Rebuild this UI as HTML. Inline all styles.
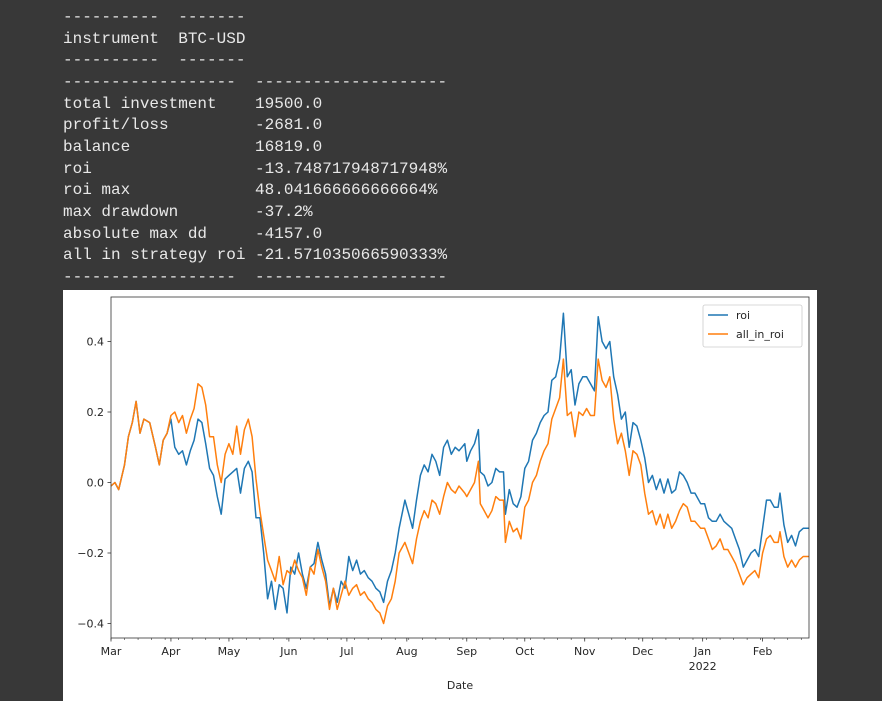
<!DOCTYPE html>
<html><head><meta charset="utf-8"><style>
body{margin:0;background:#383838;width:882px;height:701px;overflow:hidden;position:relative}
pre{position:absolute;left:63px;top:7px;margin:0;font-family:"Liberation Mono",monospace;font-size:16px;line-height:21.65px;color:#e8e8e8}
#chart{position:absolute;left:63px;top:290px}
svg text{font-family:"DejaVu Sans","Liberation Sans",sans-serif;font-size:11px;fill:#262626}
</style></head><body>
<pre>----------  -------
instrument  BTC-USD
----------  -------
------------------  --------------------
total investment    19500.0
profit/loss         -2681.0
balance             16819.0
roi                 -13.748717948717948%
roi max             48.041666666666664%
max drawdown        -37.2%
absolute max dd     -4157.0
all in strategy roi -21.571035066590333%
------------------  --------------------</pre>
<svg id="chart" width="754" height="411"></svg>
<script>
const dates=["2021-03-01","2021-03-03","2021-03-05","2021-03-08","2021-03-10","2021-03-12","2021-03-14","2021-03-16","2021-03-18","2021-03-21","2021-03-24","2021-03-26","2021-03-28","2021-03-30",
"2021-04-01","2021-04-03","2021-04-05","2021-04-07","2021-04-09","2021-04-11","2021-04-13","2021-04-15","2021-04-17","2021-04-19","2021-04-21","2021-04-23","2021-04-25","2021-04-27","2021-04-29",
"2021-05-01","2021-05-03","2021-05-05","2021-05-07","2021-05-09","2021-05-11","2021-05-13","2021-05-15","2021-05-17","2021-05-19","2021-05-21","2021-05-23","2021-05-25","2021-05-27","2021-05-29","2021-05-31",
"2021-06-02","2021-06-04","2021-06-06","2021-06-08","2021-06-10","2021-06-12","2021-06-14","2021-06-16","2021-06-18","2021-06-20","2021-06-22","2021-06-24","2021-06-26","2021-06-28","2021-06-30",
"2021-07-02","2021-07-04","2021-07-06","2021-07-08","2021-07-10","2021-07-12","2021-07-14","2021-07-16","2021-07-18","2021-07-20","2021-07-22","2021-07-24","2021-07-26","2021-07-28","2021-07-31",
"2021-08-02","2021-08-04","2021-08-06","2021-08-08","2021-08-10","2021-08-12","2021-08-14","2021-08-16","2021-08-18","2021-08-20","2021-08-22","2021-08-24","2021-08-26","2021-08-28","2021-08-31",
"2021-09-01","2021-09-03","2021-09-05","2021-09-07","2021-09-08","2021-09-10","2021-09-12","2021-09-14","2021-09-16","2021-09-18","2021-09-20","2021-09-21","2021-09-23","2021-09-25","2021-09-27","2021-09-29",
"2021-10-01","2021-10-03","2021-10-05","2021-10-07","2021-10-09","2021-10-11","2021-10-13","2021-10-15","2021-10-17","2021-10-19","2021-10-21","2021-10-23","2021-10-25","2021-10-27","2021-10-29","2021-10-31",
"2021-11-02","2021-11-04","2021-11-06","2021-11-08","2021-11-10","2021-11-12","2021-11-14","2021-11-16","2021-11-18","2021-11-20","2021-11-22","2021-11-24","2021-11-26","2021-11-28","2021-11-30",
"2021-12-02","2021-12-04","2021-12-06","2021-12-08","2021-12-10","2021-12-12","2021-12-14","2021-12-16","2021-12-18","2021-12-20","2021-12-22","2021-12-24","2021-12-26","2021-12-28","2021-12-31",
"2022-01-02","2022-01-04","2022-01-06","2022-01-08","2022-01-10","2022-01-12","2022-01-14","2022-01-16","2022-01-18","2022-01-20","2022-01-22","2022-01-24","2022-01-26","2022-01-28","2022-01-30",
"2022-02-01","2022-02-03","2022-02-05","2022-02-07","2022-02-09","2022-02-10","2022-02-12","2022-02-14","2022-02-16","2022-02-18","2022-02-20","2022-02-22","2022-02-25"];
const roi=[-0.01,0.0,-0.02,0.05,0.13,0.17,0.23,0.14,0.18,0.17,0.10,0.05,0.12,0.14,
0.18,0.10,0.08,0.09,0.05,0.09,0.12,0.18,0.17,0.11,0.04,0.02,-0.04,-0.09,0.01,
0.02,0.03,0.04,-0.03,0.04,0.06,0.03,-0.10,-0.10,-0.20,-0.33,-0.28,-0.36,-0.29,-0.30,-0.37,
-0.24,-0.26,-0.20,-0.26,-0.30,-0.24,-0.23,-0.17,-0.22,-0.26,-0.35,-0.30,-0.34,-0.28,-0.30,
-0.21,-0.25,-0.22,-0.26,-0.25,-0.27,-0.28,-0.30,-0.31,-0.34,-0.28,-0.25,-0.20,-0.13,-0.05,
-0.09,-0.13,-0.05,0.02,0.05,0.03,0.08,0.06,0.02,0.10,0.12,0.08,0.10,0.09,0.11,
0.06,0.09,0.11,0.15,0.03,0.02,-0.01,0.00,0.04,0.03,0.03,-0.09,-0.02,-0.06,-0.07,-0.04,
0.04,0.06,0.12,0.14,0.17,0.19,0.20,0.29,0.30,0.35,0.48,0.30,0.32,0.22,0.28,0.30,
0.30,0.28,0.26,0.47,0.40,0.38,0.40,0.30,0.25,0.18,0.20,0.10,0.17,0.16,0.12,
0.07,0.00,0.02,-0.02,0.01,-0.03,0.01,-0.03,-0.02,0.03,0.02,0.00,-0.03,-0.03,-0.06,
-0.06,-0.10,-0.11,-0.11,-0.09,-0.11,-0.12,-0.13,-0.16,-0.19,-0.24,-0.22,-0.20,-0.19,-0.21,
-0.13,-0.05,-0.05,-0.07,-0.07,-0.03,-0.12,-0.17,-0.15,-0.18,-0.14,-0.13,-0.13];
const allInRoi=[-0.01,0.0,-0.02,0.05,0.13,0.17,0.23,0.14,0.18,0.17,0.10,0.05,0.12,0.14,
0.19,0.20,0.17,0.19,0.14,0.18,0.21,0.28,0.27,0.22,0.13,0.13,0.05,0.00,0.08,
0.11,0.08,0.16,0.08,0.15,0.18,0.13,0.01,-0.08,-0.15,-0.22,-0.25,-0.28,-0.21,-0.29,-0.25,
-0.26,-0.22,-0.25,-0.27,-0.32,-0.24,-0.26,-0.19,-0.24,-0.28,-0.36,-0.30,-0.36,-0.32,-0.28,
-0.32,-0.30,-0.29,-0.32,-0.31,-0.33,-0.34,-0.36,-0.37,-0.40,-0.35,-0.33,-0.28,-0.20,-0.17,
-0.20,-0.23,-0.16,-0.11,-0.08,-0.10,-0.05,-0.06,-0.09,-0.04,0.00,-0.02,-0.03,-0.01,-0.03,
-0.04,-0.02,0.00,0.06,-0.06,-0.08,-0.10,-0.08,-0.04,-0.05,-0.05,-0.17,-0.11,-0.14,-0.13,-0.16,
-0.07,-0.05,0.00,0.02,0.06,0.09,0.11,0.18,0.21,0.24,0.35,0.19,0.20,0.13,0.20,0.19,
0.21,0.19,0.19,0.35,0.29,0.27,0.30,0.18,0.11,0.14,0.09,0.02,0.09,0.08,0.05,
-0.03,-0.09,-0.08,-0.12,-0.09,-0.13,-0.09,-0.13,-0.11,-0.08,-0.06,-0.07,-0.11,-0.11,-0.13,
-0.13,-0.16,-0.19,-0.18,-0.16,-0.19,-0.19,-0.21,-0.23,-0.26,-0.29,-0.27,-0.26,-0.25,-0.27,
-0.20,-0.16,-0.15,-0.17,-0.17,-0.14,-0.21,-0.24,-0.22,-0.24,-0.22,-0.21,-0.21];
const yTicks=[-0.4,-0.2,0.0,0.2,0.4];
const yTickLabels=["\u22120.4","\u22120.2","0.0","0.2","0.4"];
const monthTicks=["2021-03-01","2021-04-01","2021-05-01","2021-06-01","2021-07-01","2021-08-01","2021-09-01","2021-10-01","2021-11-01","2021-12-01","2022-01-01","2022-02-01"];
const monthLabels=["Mar","Apr","May","Jun","Jul","Aug","Sep","Oct","Nov","Dec","Jan","Feb"];

const svg=document.getElementById('chart');
const NS='http://www.w3.org/2000/svg';
const L=48,R=746,T=7,B=348; // plot box in svg coords
const t0=Date.UTC(2021,2,1), t1=Date.UTC(2022,1,25);
function dayMs(s){const p=s.split('-');return Date.UTC(+p[0],+p[1]-1,+p[2]);}
function xs(s){return L+(dayMs(s)-t0)/(t1-t0)*(R-L);}
function ys(v){return 192.5-v*352.5;}
function mk(tag,attrs,parent){const e=document.createElementNS(NS,tag);for(const k in attrs)e.setAttribute(k,attrs[k]);(parent||svg).appendChild(e);return e;}
mk('rect',{x:0,y:0,width:754,height:411,fill:'#fff'});
// y ticks
yTicks.forEach((v,i)=>{
  const y=ys(v);
  const tk=mk('line',{x1:L-3.5,x2:L,y1:y,y2:y,stroke:'#333','stroke-width':0.8});
  
  
  const tx=mk('text',{x:L-7,y:y+4,'text-anchor':'end'});
  tx.textContent=yTickLabels[i];
  
  
});
// minor weekly ticks
for(let d=t0;d<=t1;d+=7*86400000){
  const x=L+(d-t0)/(t1-t0)*(R-L);
  const m=mk('line',{x1:x,x2:x,y1:B,y2:B+2,stroke:'#333','stroke-width':0.6});
  
  
}
monthTicks.forEach((s,i)=>{
  const x=xs(s);
  const tk=mk('line',{x1:x,x2:x,y1:B,y2:B+3.5,stroke:'#333','stroke-width':0.8});
  
  
  const tx=mk('text',{x:x,y:B+17,'text-anchor':'middle'});
  tx.textContent=monthLabels[i];
  
  
  if(monthLabels[i]==='Jan'){
    const yr=mk('text',{x:x,y:B+32,'text-anchor':'middle'});
    yr.textContent='2022';
    
    
  }
});
function line(vals,color,name){
  const d=dates.map((s,i)=>(i?'L':'M')+xs(s).toFixed(1)+' '+ys(vals[i]).toFixed(1)).join(' ');
  const p=mk('path',{d:d,fill:'none',stroke:color,'stroke-width':1.5,'stroke-linejoin':'round'});
  
  
}
line(roi,'#1f77b4','roi-line');
line(allInRoi,'#ff7f0e','all-in-roi-line');
const frame=mk('rect',{x:L,y:T,width:R-L,height:B-T,fill:'none',stroke:'#333','stroke-width':0.8});


const xt=mk('text',{x:(L+R)/2,y:399,'text-anchor':'middle'});
xt.textContent='Date';


// legend
const lg=mk('g',{});


mk('rect',{x:640,y:15,width:99,height:42,rx:2,fill:'#fff',stroke:'#ccc','stroke-width':0.8},lg);
[['roi','#1f77b4'],['all_in_roi','#ff7f0e']].forEach((e,i)=>{
  const g=mk('g',{},lg);
  
  
  const y=25+i*19;
  mk('line',{x1:645,x2:665,y1:y,y2:y,stroke:e[1],'stroke-width':1.5},g);
  const t=mk('text',{x:673,y:y+4},g);
  t.textContent=e[0];
});
</script>
</body></html>
